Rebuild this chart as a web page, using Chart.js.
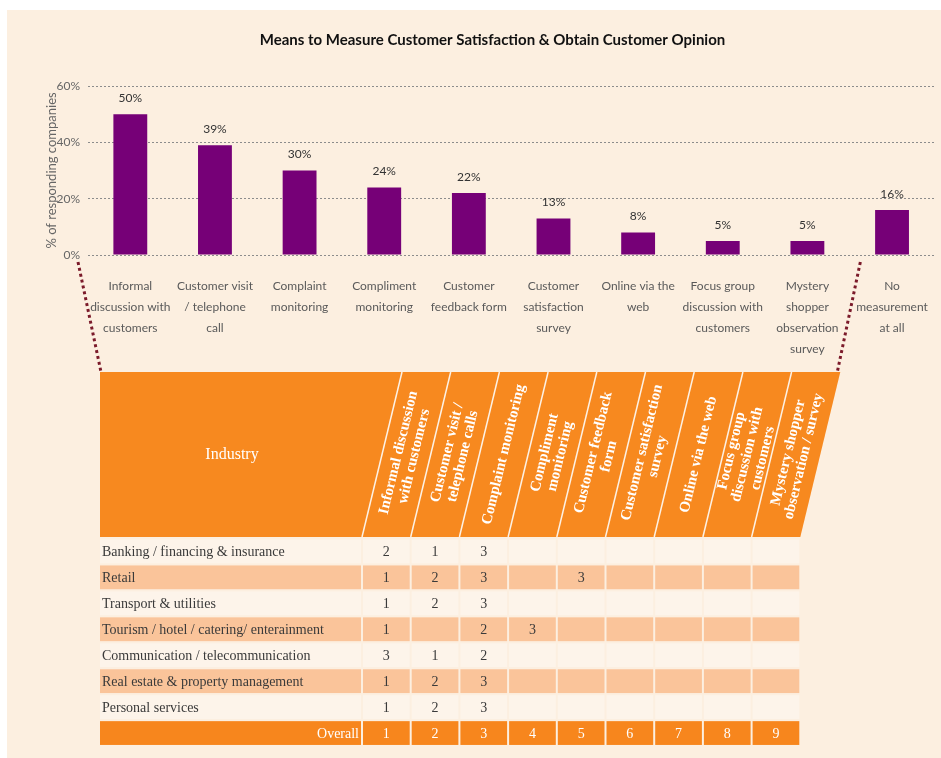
<!DOCTYPE html>
<html>
<head>
<meta charset="utf-8">
<script src="https://cdn.jsdelivr.net/npm/chart.js@4.4.0/dist/chart.umd.min.js"></script>
<style>
  html, body { margin: 0; padding: 0; background: #fff; }
  #panel { position: absolute; left: 7px; top: 10px; width: 934px; height: 748px; background: #fcefe0; }
  #chart { position: absolute; left: 0; top: 0; }
</style>
</head>
<body>
<div id="panel"></div>
<canvas id="chart" width="941" height="758"></canvas>
<script>
// bar chart
const means = [
  ['Informal', 'discussion with', 'customers'],
  ['Customer visit', '/ telephone', 'call'],
  ['Complaint', 'monitoring'],
  ['Compliment', 'monitoring'],
  ['Customer', 'feedback form'],
  ['Customer', 'satisfaction', 'survey'],
  ['Online via the', 'web'],
  ['Focus group', 'discussion with', 'customers'],
  ['Mystery', 'shopper', 'observation', 'survey'],
  ['No', 'measurement', 'at all']
];
const shares = [50, 39, 30, 24, 22, 13, 8, 5, 5, 16];

// ranking table
const tableMethods = [
  ['Informal discussion', 'with customers'],
  ['Customer visit /', 'telephone calls'],
  ['Complaint monitoring'],
  ['Compliment', 'monitoring'],
  ['Customer feedback', 'form'],
  ['Customer satisfaction', 'survey'],
  ['Online via the web'],
  ['Focus group', 'discussion with', 'customers'],
  ['Mystery shopper', 'observation / survey']
];
const industries = [
  'Banking / financing & insurance',
  'Retail',
  'Transport & utilities',
  'Tourism / hotel / catering/ enterainment',
  'Communication / telecommunication',
  'Real estate & property management',
  'Personal services'
];
const ranks = [
  [2, 1, 3, null, null, null, null, null, null],
  [1, 2, 3, null, 3, null, null, null, null],
  [1, 2, 3, null, null, null, null, null, null],
  [1, null, 2, 3, null, null, null, null, null],
  [3, 1, 2, null, null, null, null, null, null],
  [1, 2, 3, null, null, null, null, null, null],
  [1, 2, 3, null, null, null, null, null, null]
];
const overallRank = [1, 2, 3, 4, 5, 6, 7, 8, 9];

const serif = '"Liberation Serif", "DejaVu Serif", serif';

// value labels above bars
const valueLabels = {
  id: 'valueLabels',
  afterDatasetsDraw(chart) {
    const ctx = chart.ctx;
    ctx.save();
    ctx.font = '12px Lato';
    ctx.fillStyle = '#333';
    ctx.textAlign = 'center';
    ctx.textBaseline = 'middle';
    chart.getDatasetMeta(0).data.forEach((bar, i) => {
      ctx.fillText(shares[i] + '%', bar.x, bar.y - 16);
    });
    ctx.restore();
  }
};

// table under the chart + dotted connectors
const rankTable = {
  id: 'rankTable',
  afterDraw(chart) {
    const ctx = chart.ctx;
    const area = chart.chartArea;
    const L = 100, labelRight = 362, colW = 48.7;
    const headTop = 372, headBottom = 537, slant = 40;
    const rowTop = 539.5, pitch = 25.95, rowH = 23.8;
    const right = labelRight + colW * 9;

    ctx.save();

    // dotted connectors
    ctx.strokeStyle = '#7b1a2a';
    ctx.lineWidth = 3;
    ctx.setLineDash([3, 3]);
    ctx.beginPath();
    ctx.moveTo(area.left - 10, area.bottom + 7);
    ctx.lineTo(L + 1, headTop);
    ctx.moveTo(area.right - 74, area.bottom + 7);
    ctx.lineTo(right + slant - 3, headTop);
    ctx.stroke();
    ctx.setLineDash([]);

    // header block
    ctx.fillStyle = '#f7891f';
    ctx.beginPath();
    ctx.moveTo(L, headTop);
    ctx.lineTo(right + slant, headTop);
    ctx.lineTo(right, headBottom);
    ctx.lineTo(L, headBottom);
    ctx.closePath();
    ctx.fill();

    ctx.strokeStyle = '#fdf1e4';
    ctx.lineWidth = 1.5;
    for (let j = 0; j < 9; j++) {
      const bx = labelRight + j * colW;
      ctx.beginPath();
      ctx.moveTo(bx, headBottom);
      ctx.lineTo(bx + slant, headTop);
      ctx.stroke();
    }

    ctx.fillStyle = '#fff';
    ctx.textAlign = 'center';
    ctx.textBaseline = 'middle';
    ctx.font = '16px ' + serif;
    ctx.fillText('Industry', 232, (headTop + headBottom) / 2);

    const ang = -Math.atan2(headBottom - headTop, slant);
    ctx.font = 'bold 15px ' + serif;
    tableMethods.forEach((lines, j) => {
      const cx = labelRight + (j + 0.5) * colW + slant / 2;
      const cy = (headTop + headBottom) / 2;
      ctx.save();
      ctx.translate(cx, cy);
      ctx.rotate(ang);
      lines.forEach((t, k) => {
        ctx.fillText(t, 0, (k - (lines.length - 1) / 2) * 16);
      });
      ctx.restore();
    });

    // body rows
    const rows = industries.length + 1;
    for (let i = 0; i < rows; i++) {
      const y = rowTop + i * pitch;
      const last = i === rows - 1;
      ctx.fillStyle = last ? '#f7861d' : (i % 2 ? '#fac49a' : '#fdf4ea');
      ctx.fillRect(L, y, labelRight - L - 1, rowH);
      for (let j = 0; j < 9; j++) {
        ctx.fillRect(labelRight + j * colW + 1, y, colW - 2, rowH);
      }
      const ty = y + rowH / 2 + 1;
      ctx.font = '14px ' + serif;
      ctx.textBaseline = 'middle';
      if (last) {
        ctx.fillStyle = '#fff';
        ctx.textAlign = 'right';
        ctx.fillText('Overall', labelRight - 3, ty);
        ctx.textAlign = 'center';
        overallRank.forEach((v, j) => ctx.fillText(String(v), labelRight + (j + 0.5) * colW, ty));
      } else {
        ctx.fillStyle = '#3a3a3a';
        ctx.textAlign = 'left';
        ctx.fillText(industries[i], L + 2, ty);
        ctx.textAlign = 'center';
        ranks[i].forEach((v, j) => {
          if (v !== null) ctx.fillText(String(v), labelRight + (j + 0.5) * colW, ty);
        });
      }
    }
    ctx.restore();
  }
};

const config = {
  type: 'bar',
  data: {
    labels: means,
    datasets: [{
      data: shares,
      backgroundColor: '#760077',
      categoryPercentage: 0.8,
      barPercentage: 0.5
    }]
  },
  options: {
    responsive: false,
    animation: false,
    devicePixelRatio: 1,
    layout: { padding: { left: 47, right: 3, top: 0, bottom: 393 } },
    plugins: {
      legend: { display: false },
      tooltip: { enabled: false },
      title: {
        display: true,
        text: 'Means to Measure Customer Satisfaction & Obtain Customer Opinion',
        color: '#111',
        font: { family: 'Lato', size: 15, weight: 'bold' },
        padding: { top: 31, bottom: 37 }
      }
    },
    scales: {
      x: {
        grid: { display: false },
        border: { display: false },
        ticks: {
          color: '#5a5a5a',
          font: { family: 'Lato', size: 12, lineHeight: 1.75 },
          padding: 13,
          autoSkip: false,
          maxRotation: 0
        },
        afterFit: (s) => { s.height = 110; }
      },
      y: {
        min: 0,
        max: 60,
        grid: { color: '#8c8c8c', drawTicks: false },
        border: { display: false, dash: [2, 2] },
        ticks: {
          stepSize: 20,
          color: '#666',
          padding: 8,
          font: { family: 'Lato', size: 12 },
          callback: (v) => v + '%'
        },
        title: {
          display: true,
          text: '% of responding companies',
          color: '#666',
          font: { family: 'Lato', size: 13, lineHeight: 0.8 },
          padding: { top: 0, bottom: 0 }
        },
        afterFit: (s) => { s.width = 41; }
      }
    }
  },
  plugins: [valueLabels, rankTable]
};

new Chart(document.getElementById('chart').getContext('2d'), config);
</script>
</body>
</html>
